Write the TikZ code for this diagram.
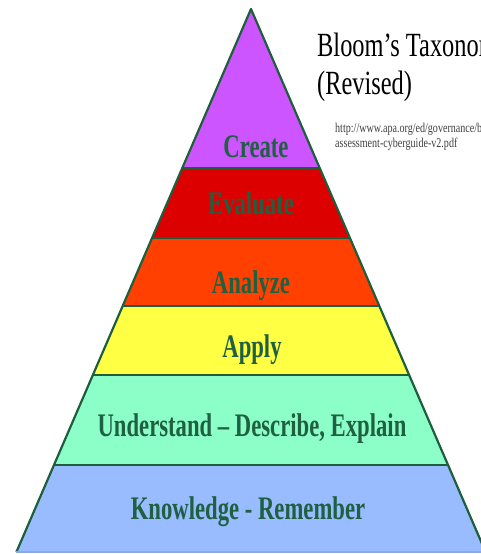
\documentclass[tikz,border=0pt]{standalone}
\usepackage{fontspec}
\setmainfont{Liberation Serif}[FakeStretch=0.69]
\newfontfamily\titlefont{Liberation Serif}[FakeStretch=0.72]
\newfontfamily\urlfont{Liberation Serif}[FakeStretch=0.75]
\usetikzlibrary{calc,positioning}
\definecolor{edgegreen}{HTML}{1E5E3C}
\definecolor{textgreen}{HTML}{1F6040}
\definecolor{createfill}{HTML}{CC55FF}
\definecolor{evalfill}{HTML}{DD0000}
\definecolor{analyzefill}{HTML}{FF4000}
\definecolor{applyfill}{HTML}{FFFF44}
\definecolor{understandfill}{HTML}{8CFFC8}
\definecolor{knowfill}{HTML}{99BBFF}
\tikzset{
  levellabel/.style = {anchor=base, inner sep=0pt, text=textgreen,
    font=\fontsize{33}{35}\selectfont\bfseries},
  divider/.style = {draw=edgegreen, line width=2.2pt},
  titletext/.style = {anchor=base west, inner sep=0pt, text=black,
    font=\titlefont\fontsize{34}{36}\selectfont},% titre
  urltext/.style = {anchor=base west, inner sep=0pt, text=black!75,
    font=\urlfont\fontsize{13.5}{15}\selectfont}% source
}
\begin{document}
\begin{tikzpicture}[x=1bp,y=-1bp]
  \useasboundingbox (0,0) rectangle (481,554);
  \clip (0,0) rectangle (481,554);
  \fill[white] (0,0) rectangle (481,554);
  % pyramide
  \coordinate (apex) at (251,9);
  \coordinate (bl) at (16.4,552);
  \coordinate (br) at (485.6,552);
  \foreach \t [count=\i] in {0.2928,0.4217,0.5470,0.6740,0.8398}{
    \coordinate (l\i) at ($(apex)!\t!(bl)$);
    \coordinate (r\i) at ($(apex)!\t!(br)$);
  }
  \fill[createfill] (apex) -- (r1) -- (l1) -- cycle;
  \fill[evalfill] (l1) -- (r1) -- (r2) -- (l2) -- cycle;
  \fill[analyzefill] (l2) -- (r2) -- (r3) -- (l3) -- cycle;
  \fill[applyfill] (l3) -- (r3) -- (r4) -- (l4) -- cycle;
  \fill[understandfill] (l4) -- (r4) -- (r5) -- (l5) -- cycle;
  \fill[knowfill] (l5) -- (r5) -- (br) -- (bl) -- cycle;
  \foreach \i in {1,...,5}{
    \draw[divider] (l\i) -- (r\i);
  }
  \draw[divider, line join=round] (bl) -- (apex) -- (br);
  \draw[draw=knowfill!70!gray, line width=1.2pt] (bl) -- (br);
  % niveaux
  \node[levellabel] (create) at (256,158) {Create};
  \node[levellabel] (evaluate) at (251,215) {Evaluate};
  \node[levellabel] (analyze) at (251,293) {Analyze};
  \node[levellabel] (apply) at (252,357) {Apply};
  \node[levellabel] (understand) at (252,436) {Understand – Describe, Explain};
  \node[levellabel] (knowledge) at (248,519) {Knowledge - Remember};
  % titre et source
  \node[titletext] (title) at (317,57) {Bloom’s Taxonomy};
  \node[titletext] (revised) at (317,95) {(Revised)};
  \node[urltext] (url1) at (335,133) {http://www.apa.org/ed/governance/bea/};
  \node[urltext] (url2) at (335,148) {assessment-cyberguide-v2.pdf};
\end{tikzpicture}
\end{document}
